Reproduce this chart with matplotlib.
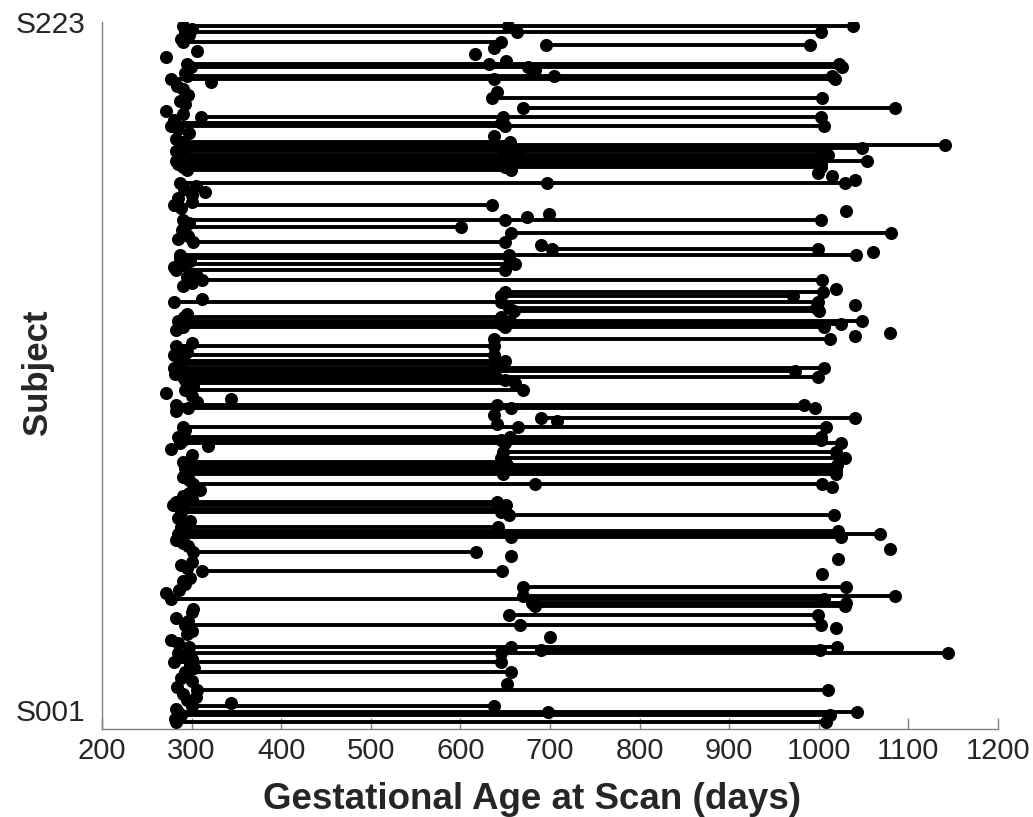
import numpy as np
import matplotlib
matplotlib.use("Agg")
import matplotlib.pyplot as plt

nan = np.nan
# Scan ages (gestational days) per subject, S001 (bottom) .. S223 (top)
scan_birth = [283, 281, 288, 285, 283, 300, 344, 295, 305, 290,
              306, 284, nan, 300, 288, 295, 293, 303, 298, 280,
              300, 292, 285, nan, 297, 285, 277, nan, 295, 300,
              nan, 293, 296, 283, nan, 300, 302, nan, nan, 277,
              nan, 271, 286, nan, 293, 290, 298, nan, 312, 295,
              288, 300, nan, nan, 302, nan, 296, 291, 283, 290,
              285, 293, 288, 295, 298, 285, nan, 288, 290, 279,
              283, 300, 290, 297, 309, nan, 302, 297, 291, 293,
              295, 293, 298, 290, nan, 300, nan, 277, 318, 287,
              290, 285, 290, 293, 290, nan, nan, nan, nan, 283,
              296, 283, 306, 344, 300, 271, 293, 302, 296, 293,
              290, 282, 285, 280, 286, 290, 290, 280, 295, 285,
              283, 300, nan, nan, nan, 283, 290, 288, 285, 292,
              295, nan, nan, nan, 280, 312, nan, nan, nan, 290,
              300, 312, 295, 305, 283, 280, 290, 298, 287, 287,
              nan, nan, nan, 302, 285, 296, nan, 289, 293, 297,
              290, nan, nan, nan, 288, 280, 301, 285, 300, 315,
              292, 305, 287, nan, nan, nan, 295, 290, 285, 283,
              288, 292, 283, 290, 292, 290, 283, nan, 297, 285,
              277, 280, 280, 311, 290, 271, nan, 293, 287, nan,
              296, nan, 290, 284, 322, 277, 295, 293, nan, 299,
              295, nan, 272, nan, 306, nan, nan, 291, 288, 297,
              293, 300, 291]
scan_year1 = [nan, nan, nan, 698, nan, 637, nan, nan, nan, nan,
              nan, nan, 652, nan, nan, nan, 656, nan, nan, 645,
              nan, nan, 645, 690, 656, nan, nan, 700, nan, nan,
              nan, 666, nan, nan, 654, nan, nan, 683, 680, nan,
              670, nan, nan, 670, nan, nan, nan, nan, 647, nan,
              nan, nan, nan, 656, 617, nan, nan, nan, nan, 657,
              nan, nan, 642, nan, nan, nan, 654, 645, 648, 651,
              641, nan, nan, nan, nan, nan, 683, nan, nan, 648,
              nan, 650, 652, 650, 645, nan, 648, nan, nan, 650,
              645, 655, nan, nan, 664, 641, 708, 690, 638, nan,
              656, 641, nan, nan, nan, nan, 670, nan, 661, 650,
              640, 638, 636, 640, 645, 650, nan, 638, nan, nan,
              638, nan, 638, nan, nan, nan, 650, 645, 655, 645,
              nan, 660, 654, nan, 645, nan, 645, 650, nan, nan,
              nan, nan, nan, nan, 650, nan, 661, nan, 654, 654,
              nan, 702, 690, 650, nan, nan, 657, nan, 601, nan,
              650, 674, 699, nan, nan, 635, nan, nan, nan, nan,
              nan, nan, 697, nan, nan, nan, 657, 650, 655, 660,
              645, 650, 665, 648, 655, 655, nan, 638, nan, nan,
              650, 645, nan, 648, nan, nan, 670, nan, nan, 635,
              nan, 641, nan, nan, nan, 638, 704, nan, 683, 676,
              632, 651, nan, 616, nan, 638, 696, 645, nan, nan,
              663, nan, 653]
scan_year2 = [1008, nan, 1012, 1043, nan, nan, nan, nan, nan, nan,
              1010, nan, nan, nan, nan, nan, nan, nan, nan, nan,
              nan, nan, 1144, 1001, 1020, nan, nan, nan, nan, nan,
              1019, 1003, nan, nan, 999, nan, nan, 1029, 1030, 1006,
              1085, nan, nan, 1030, nan, nan, nan, 1004, nan, nan,
              nan, nan, 1022, nan, nan, 1080, nan, nan, nan, 1025,
              1068, 1022, nan, nan, nan, nan, 1017, nan, nan, nan,
              nan, nan, nan, nan, nan, 1015, 1004, nan, nan, 1019,
              1019, 1019, 1020, nan, 1029, nan, 1019, nan, nan, 1025,
              1003, 1003, nan, nan, 1008, nan, nan, 1040, nan, nan,
              996, 983, nan, nan, nan, nan, nan, nan, nan, nan,
              999, nan, 974, 1006, nan, nan, nan, nan, nan, nan,
              nan, nan, 1012, 1040, 1080, nan, 1006, 1025, 1048, nan,
              nan, 1000, 997, 1040, 999, nan, 971, 1005, 1019, nan,
              nan, 1004, nan, nan, nan, nan, nan, nan, nan, 1042,
              1060, 999, nan, nan, nan, nan, 1081, nan, nan, nan,
              1002, nan, nan, 1030, nan, nan, nan, nan, nan, nan,
              nan, nan, 1029, 1040, 1015, 999, nan, 1003, 1003, 1054,
              1003, 1010, 1005, 1048, 1141, nan, nan, nan, nan, nan,
              1006, nan, nan, 1002, nan, nan, 1085, nan, nan, 1004,
              nan, nan, nan, nan, nan, 1018, 1015, nan, nan, 1026,
              1023, nan, nan, nan, nan, nan, 990, nan, nan, nan,
              1002, nan, 1038]

subject_ticks = ["S001", "S223"]
x_ticks = [200, 300, 400, 500, 600, 700, 800, 900, 1000, 1100, 1200]

plt.rcParams['font.family'] = ['Liberation Sans', 'DejaVu Sans']

fig = plt.figure(figsize=(10.33, 8.17), dpi=100)
ax = fig.add_axes([0.0987, 0.1077, 0.8674, 0.8654])

ages = np.array([scan_birth, scan_year1, scan_year2], dtype=float).T
n = ages.shape[0]
for i in range(n):
    row = ages[i]
    vals = row[~np.isnan(row)]
    y = i + 1
    if len(vals) >= 2:
        ax.plot([vals.min(), vals.max()], [y, y], color='black', lw=2.8,
                solid_capstyle='butt', zorder=2)
    ax.plot(vals, np.full(len(vals), y), 'o', color='black', ms=9.4,
            markeredgewidth=0, zorder=3)

ax.set_xlim(200, 1200)
ax.set_ylim(-1.33, 224.3)
ax.set_xticks(x_ticks)
ax.set_xticklabels([str(v) for v in x_ticks])
ax.set_yticks([4.73, 224.3])
ax.set_yticklabels(subject_ticks)

for s in ['top', 'right']:
    ax.spines[s].set_visible(False)
for s in ['left', 'bottom']:
    ax.spines[s].set_color('#808080')
    ax.spines[s].set_linewidth(1.0)

ax.tick_params(axis='x', direction='in', length=8, width=1, color='#808080',
               labelsize=21, labelcolor='#262626', pad=6)
ax.tick_params(axis='y', length=0, labelsize=21.5, labelcolor='#262626', pad=12)

ax.set_xlabel('Gestational Age at Scan (days)', fontsize=26.5, fontweight='bold',
              color='#262626')
ax.xaxis.set_label_coords(0.48, -0.1)
ax.xaxis.label.set_verticalalignment('center')
ax.set_ylabel('Subject', fontsize=25, fontweight='bold', color='#262626')
ax.yaxis.set_label_coords(-0.072, 0.505)
ax.yaxis.label.set_verticalalignment('center')

fig.savefig('out.png', dpi=100)
